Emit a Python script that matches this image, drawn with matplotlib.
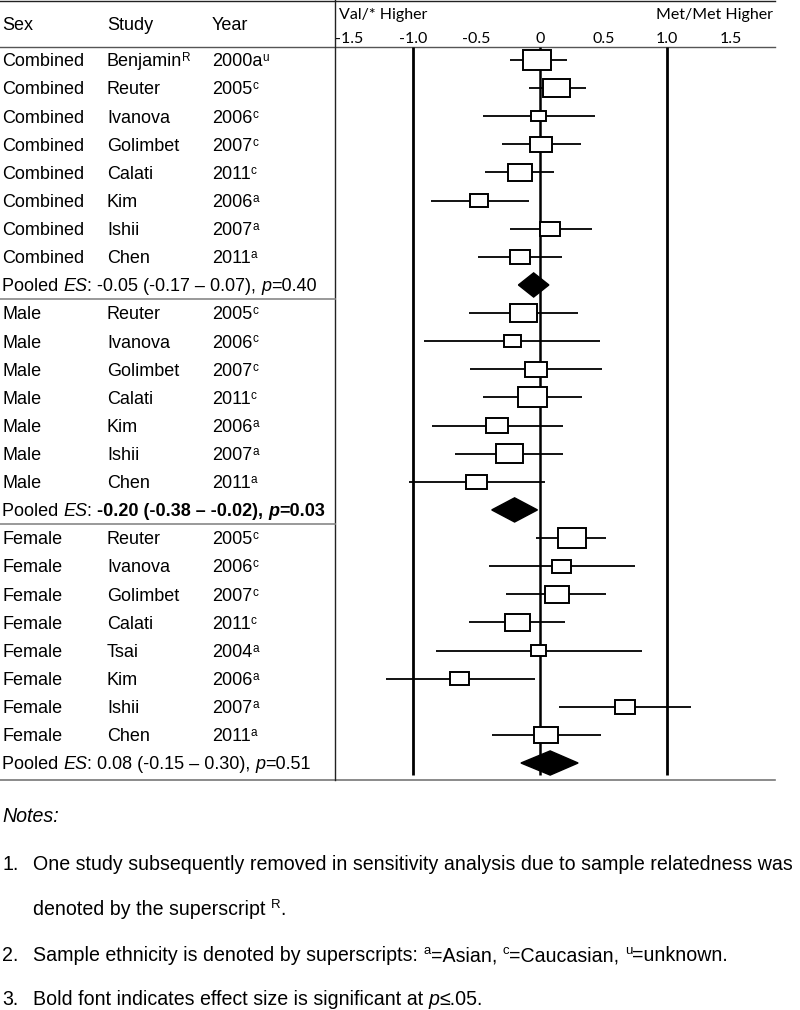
import matplotlib
matplotlib.use("Agg")
import matplotlib.pyplot as plt
from matplotlib.patches import Rectangle, Polygon

# -----------------------------
# Data
# -----------------------------
comb_study = ["Benjamin", "Reuter", "Ivanova", "Golimbet", "Calati", "Kim", "Ishii", "Chen"]
comb_study_sup = ["R", "", "", "", "", "", "", ""]
comb_year = ["2000a", "2005", "2006", "2007", "2011", "2006", "2007", "2011"]
comb_year_sup = ["u", "c", "c", "c", "c", "a", "a", "a"]
comb_es = [-0.02, 0.13, -0.01, 0.01, -0.16, -0.48, 0.08, -0.16]
comb_lo = [-0.24, -0.09, -0.45, -0.30, -0.43, -0.86, -0.24, -0.49]
comb_hi = [0.21, 0.36, 0.43, 0.32, 0.11, -0.09, 0.41, 0.17]
comb_wt = [28, 27, 15, 22, 24, 18, 20, 20]

male_study = ["Reuter", "Ivanova", "Golimbet", "Calati", "Kim", "Ishii", "Chen"]
male_year = ["2005", "2006", "2007", "2011", "2006", "2007", "2011"]
male_year_sup = ["c", "c", "c", "c", "a", "a", "a"]
male_es = [-0.13, -0.22, -0.03, -0.06, -0.34, -0.24, -0.50]
male_lo = [-0.56, -0.91, -0.55, -0.45, -0.85, -0.67, -1.03]
male_hi = [0.30, 0.47, 0.49, 0.33, 0.18, 0.18, 0.04]
male_wt = [27, 17, 22, 29, 22, 27, 21]

fem_study = ["Reuter", "Ivanova", "Golimbet", "Calati", "Tsai", "Kim", "Ishii", "Chen"]
fem_year = ["2005", "2006", "2007", "2011", "2004", "2006", "2007", "2011"]
fem_year_sup = ["c", "c", "c", "c", "a", "a", "a", "a"]
fem_es = [0.25, 0.17, 0.13, -0.18, -0.01, -0.63, 0.67, 0.05]
fem_lo = [-0.03, -0.40, -0.27, -0.56, -0.82, -1.21, 0.15, -0.38]
fem_hi = [0.52, 0.75, 0.52, 0.20, 0.80, -0.04, 1.19, 0.48]
fem_wt = [28, 19, 24, 25, 15, 19, 20, 24]

# pooled: estimate, lower, upper, p, significant
pooled_comb = (-0.05, -0.17, 0.07, "0.40", False)
pooled_male = (-0.20, -0.38, -0.02, "0.03", True)
pooled_fem = (0.08, -0.15, 0.30, "0.51", False)

tick_vals = [-1.5, -1.0, -0.5, 0, 0.5, 1.0, 1.5]
tick_labels = ["-1.5", "-1.0", "-0.5", "0", "0.5", "1.0", "1.5"]

note1 = "One study subsequently removed in sensitivity analysis due to sample relatedness was"
note1b = "denoted by the superscript"
note2 = "Sample ethnicity is denoted by superscripts:"
note3 = "Bold font indicates effect size is significant at"

# -----------------------------
# Layout (pixels, 800 x 1010)
# -----------------------------
W, H = 800, 1010
ROW0, ROWH = 60.0, 28.12
X0_PX, PX_PER_UNIT = 540.0, 127.0
DIV_X = 334.5
TOP_Y, HEAD_Y, BOT_Y, RIGHT_X = 0.8, 47.0, 780.0, 775.0
FS = 13.0
SUP = 8.5
TXT = dict(family="Liberation Sans", color="black")

fig = plt.figure(figsize=(W / 100, H / 100), dpi=100)
bg = fig.add_axes([0, 0, 1, 1])
bg.set_xlim(0, W)
bg.set_ylim(H, 0)
bg.axis("off")
renderer = fig.canvas.get_renderer()


def row_y(i):
    return ROW0 + ROWH * i


def runs(x, y, parts):
    """Draw text runs one after the other: (string, kwargs)."""
    for s, kw in parts:
        kw = dict(kw)
        dy = kw.pop("dy", 0)
        size = kw.pop("size", FS)
        t = bg.text(x, y - dy, s, fontsize=size, va="baseline", ha="left", **TXT, **kw)
        x += t.get_window_extent(renderer).width
    return x


def base(y):
    return y + 6.3


# table lines
bg.plot([0, RIGHT_X], [TOP_Y, TOP_Y], color="#222222", lw=1.0)
bg.plot([0, RIGHT_X], [HEAD_Y, HEAD_Y], color="#555555", lw=1.0)
bg.plot([0, RIGHT_X], [BOT_Y, BOT_Y], color="#777777", lw=1.2)
bg.plot([DIV_X, DIV_X], [0, BOT_Y], color="#222222", lw=1.0)

# header
for x, s in [(2, "Sex"), (107, "Study"), (212, "Year")]:
    bg.text(x, base(24), s, fontsize=FS, va="baseline", **TXT)

groups = [
    ("Combined", comb_study, comb_study_sup, comb_year, comb_year_sup,
     comb_es, comb_lo, comb_hi, comb_wt, pooled_comb),
    ("Male", male_study, [""] * len(male_study), male_year, male_year_sup,
     male_es, male_lo, male_hi, male_wt, pooled_male),
    ("Female", fem_study, [""] * len(fem_study), fem_year, fem_year_sup,
     fem_es, fem_lo, fem_hi, fem_wt, pooled_fem),
]

# forest axes
ax_left, ax_right = DIV_X + 0.5, RIGHT_X
ax = fig.add_axes([ax_left / W, 1 - BOT_Y / H, (ax_right - ax_left) / W, (BOT_Y - HEAD_Y) / H])
ax.set_xlim((ax_left - X0_PX) / PX_PER_UNIT, (ax_right - X0_PX) / PX_PER_UNIT)
ax.set_ylim((BOT_Y - ROW0) / ROWH, (HEAD_Y - ROW0) / ROWH)
for sp in ax.spines.values():
    sp.set_visible(False)
ax.set_yticks([])
ax.xaxis.tick_top()
ax.set_xticks(tick_vals)
ax.set_xticklabels(tick_labels, family="Lato", fontsize=11.5)
ax.tick_params(axis="x", length=0, pad=1)
ax.set_facecolor("none")

line_end = (775 - ROW0) / ROWH
ylo = (HEAD_Y - ROW0) / ROWH
ax.vlines([-1.0, 1.0], ylo, line_end, color="black", lw=2.0, zorder=1)
ax.vlines([0], ylo, line_end, color="black", lw=1.8, zorder=1)

fig.text(339 / W, 1 - 15 / H, "Val/* Higher", family="Lato", fontsize=11.5, va="center", ha="left")
fig.text(773 / W, 1 - 15 / H, "Met/Met Higher", family="Lato", fontsize=11.5, va="center", ha="right")

row = 0
for gi, (sex, studies, ssup, years, ysup, es, lo, hi, wt, pooled) in enumerate(groups):
    for k in range(len(studies)):
        y = row_y(row)
        bg.text(2, base(y), sex, fontsize=FS, va="baseline", **TXT)
        parts = [(studies[k], {})]
        if ssup[k]:
            parts.append((ssup[k], dict(size=SUP, dy=5)))
        runs(107, base(y), parts)
        runs(212, base(y), [(years[k], {}), (ysup[k], dict(size=SUP, dy=5))])

        # CI line and box
        ax.hlines(row, lo[k], hi[k], color="black", lw=1.3, zorder=2)
        bw = wt[k] / PX_PER_UNIT
        bh = 0.69 * wt[k] / ROWH
        ax.add_patch(Rectangle((es[k] - bw / 2, row - bh / 2), bw, bh,
                               facecolor="white", edgecolor="black", lw=1.4, zorder=3))
        row += 1

    # pooled row
    y = row_y(row)
    est, plo, phi, pval, sig = pooled
    rng = f"{est:.2f} ({plo:.2f} \u2013 {phi:.2f}), "
    b = dict(fontweight="bold") if sig else {}
    runs(2, base(y), [("Pooled ", {}), ("ES", dict(fontstyle="italic")), (": ", {}),
                      (rng, b), ("p", dict(fontstyle="italic", **b)), (f"={pval}", b)])
    dh = 0.43
    ax.add_patch(Polygon([(plo, row), (est, row - dh), (phi, row), (est, row + dh)],
                         closed=True, facecolor="black", edgecolor="black", lw=1.0, zorder=4))
    if gi < len(groups) - 1:
        sep_y = (row_y(row) + row_y(row + 1)) / 2
        bg.plot([0, DIV_X], [sep_y, sep_y], color="#888888", lw=1.2)
    row += 1

# notes
NFS = 14.1
NSUP = 9.5
note_y = [822, 870, 915, 961, 1005]
runs(2, note_y[0], [("Notes:", dict(size=NFS, fontstyle="italic"))])
runs(2, note_y[1], [("1.", dict(size=NFS))])
runs(33, note_y[1], [(note1, dict(size=NFS))])
runs(33, note_y[2], [(note1b + " ", dict(size=NFS)), ("R", dict(size=NSUP, dy=7)), (".", dict(size=NFS))])
runs(2, note_y[3], [("2.", dict(size=NFS))])
runs(33, note_y[3], [(note2 + " ", dict(size=NFS)), ("a", dict(size=NSUP, dy=7)),
                     ("=Asian, ", dict(size=NFS)), ("c", dict(size=NSUP, dy=7)),
                     ("=Caucasian, ", dict(size=NFS)), ("u", dict(size=NSUP, dy=7)),
                     ("=unknown.", dict(size=NFS))])
runs(2, note_y[4], [("3.", dict(size=NFS))])
runs(33, note_y[4], [(note3 + " ", dict(size=NFS)), ("p", dict(size=NFS, fontstyle="italic")),
                     ("\u2264.05.", dict(size=NFS))])

fig.savefig("out.png", dpi=100)
